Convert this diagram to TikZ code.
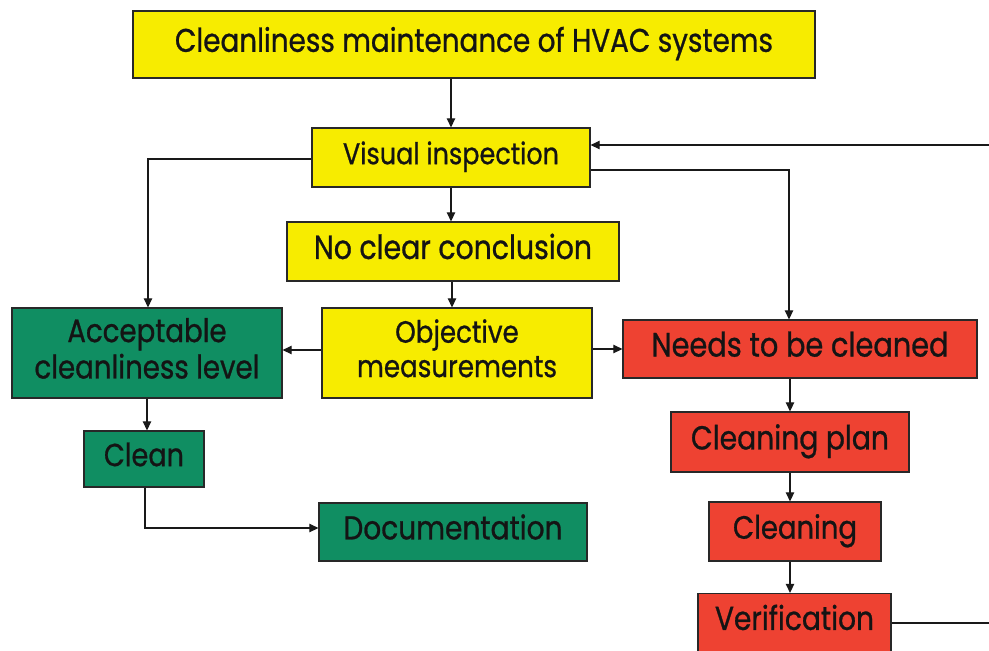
\documentclass[tikz,border=0pt]{standalone}
\usepackage{fontspec}
\setmainfont{Poppins}[FakeStretch=0.85,FakeBold=0.8]
\usetikzlibrary{arrows.meta}
\definecolor{boxyellow}{RGB}{247,236,0}
\definecolor{boxgreen}{RGB}{16,142,98}
\definecolor{boxred}{RGB}{238,66,50}
\definecolor{edge}{RGB}{40,40,40}
\definecolor{ink}{RGB}{20,20,20}
\newcommand{\fitw}[2]{\resizebox{#1}{!}{\fontsize{10}{11.2}\selectfont\begin{tabular}{@{}c@{}}#2\end{tabular}}}
\begin{document}
\begin{tikzpicture}[x=1pt,y=-1pt,
  box/.style={draw=edge, line width=1.3pt, inner sep=0pt, rectangle, text=ink},
  yb/.style={box, fill=boxyellow},
  gb/.style={box, fill=boxgreen},
  rb/.style={box, fill=boxred},
  arr/.style={line width=1.2pt, draw=black!90, -{Triangle[length=9pt,width=8.5pt]}},
  ln/.style={line width=1.2pt, draw=black!90}]
\useasboundingbox (0,0) rectangle (989,651);
\clip (0,0) rectangle (989,651);

\node[yb, minimum width=682pt, minimum height=67pt] (title) at (474,44.5) {\fitw{598pt}{Cleanliness maintenance of HVAC systems}};
\node[yb, minimum width=278pt, minimum height=59pt] (vis) at (451,157.5) {\fitw{216pt}{Visual inspection}};
\node[yb, minimum width=332pt, minimum height=59pt] (noclear) at (453,251.5) {\fitw{278pt}{No clear conclusion}};
\node[yb, minimum width=270pt, minimum height=90pt] (obj) at (457,353) {\fitw{200pt}{Objective\\measurements}};
\node[gb, minimum width=270pt, minimum height=90pt] (acc) at (147,353) {\fitw{225pt}{Acceptable\\cleanliness level}};
\node[rb, minimum width=354pt, minimum height=58pt] (needs) at (800,349) {\fitw{297pt}{Needs to be cleaned}};
\node[rb, minimum width=238pt, minimum height=60pt] (plan) at (790,442) {\fitw{198pt}{Cleaning plan}};
\node[rb, minimum width=172pt, minimum height=59pt] (cleaning) at (795,531.5) {\fitw{124pt}{Cleaning}};
\node[rb, minimum width=193pt, minimum height=58pt] (verif) at (794.5,622.5) {\fitw{159pt}{Verification}};
\node[gb, minimum width=120pt, minimum height=56pt] (clean) at (144,459) {\fitw{80pt}{Clean}};
\node[gb, minimum width=268pt, minimum height=58pt] (doc) at (453,532) {\fitw{219pt}{Documentation}};

\coordinate (xa) at (452,0);
\coordinate (ya) at (0,350);
\coordinate (yn) at (0,349);
\coordinate (bendl) at (148,159);
\coordinate (bendr) at (789,170);
\coordinate (ret) at (989,145);
\coordinate (retout) at (989,623);
\coordinate (xc) at (147,0);
\coordinate (bendd) at (145,528);
\coordinate (xr) at (790,0);

\draw[arr] (title.south -| vis.north) -- (vis.north);
\draw[arr] (vis.south) -- (noclear.north -| vis.south);
\draw[arr] (noclear.south -| xa) -- (obj.north -| xa);
\draw[arr] (obj.west |- ya) -- (acc.east |- ya);
\draw[arr] (obj.east |- yn) -- (needs.west |- yn);
\draw[arr] (vis.west |- bendl) -- (bendl) -- (acc.north -| bendl);
\draw[arr] (vis.east |- bendr) -- (bendr) -- (needs.north -| bendr);
\draw[arr] (ret) -- (vis.east |- ret);
\draw[ln] (verif.east |- retout) -- (retout);
\draw[arr] (acc.south -| xc) -- (clean.north -| xc);
\draw[arr] (clean.south -| bendd) -- (bendd) -- (doc.west |- bendd);
\draw[arr] (needs.south -| xr) -- (plan.north -| xr);
\draw[arr] (plan.south -| xr) -- (cleaning.north -| xr);
\draw[arr] (cleaning.south -| xr) -- (verif.north -| xr);
\end{tikzpicture}
\end{document}
